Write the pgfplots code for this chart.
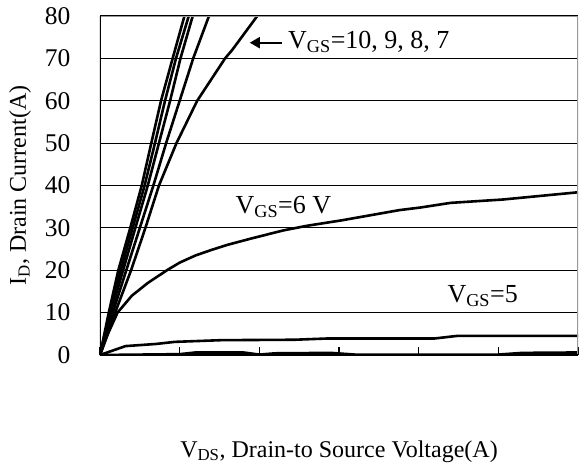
\documentclass[border=0pt]{standalone}
\usepackage{fontspec}
\setmainfont{Liberation Serif}
\usepackage{pgfplots}
\pgfplotsset{compat=1.18}
\usetikzlibrary{arrows.meta}

\newcommand{\sub}[1]{\textsubscript{#1}}

\begin{document}
\begin{tikzpicture}
\begin{axis}[
  scale only axis,
  width=478pt, height=339pt,
  xmin=0, xmax=3, ymin=0, ymax=80,
  xtick={0,0.5,...,3},
  ytick={0,10,...,80},
  xticklabels={},
  axis line style={draw=none},
  xtick pos=bottom, ytick pos=left,
  tick align=inside,
  major tick length=8pt,
  xtick style={black, line width=1.2pt},
  ytick style={draw=none},
  ymajorgrids,
  grid style={black, line width=1.1pt},
  /pgf/number format/assume math mode=true,
  tick label style={font=\fontsize{25.5}{30}\selectfont},
  yticklabel style={xshift=-26pt},
  label style={font=\fontsize{24}{28}\selectfont},
  xlabel={V\sub{DS}, Drain-to Source Voltage(A)},
  ylabel={I\sub{D}, Drain Current(A)},
  xlabel style={at={(axis description cs:0.5,0)}, anchor=base, yshift=-102pt},
  ylabel style={at={(axis description cs:0,0.5)}, anchor=base, yshift=74pt},
  every axis plot post/.append style={black, solid, line width=2.6pt, line join=round, mark=none},
]
% VGS = 10
\addplot coordinates {(0,0) (0.055,10) (0.115,20) (0.19,30) (0.262,40) (0.322,50) (0.383,60) (0.456,70) (0.53,80)};
% VGS = 9
\addplot coordinates {(0,0) (0.062,10) (0.13,20) (0.205,30) (0.28,40) (0.345,50) (0.408,60) (0.477,70) (0.557,80)};
% VGS = 8
\addplot coordinates {(0,0) (0.068,10) (0.145,20) (0.222,30) (0.30,40) (0.37,50) (0.44,60) (0.505,70) (0.582,80)};
% VGS = 7
\addplot coordinates {(0,0) (0.08,10) (0.165,20) (0.25,30) (0.335,40) (0.415,50) (0.50,60) (0.585,70) (0.684,80)};
% upper bend curve
\addplot coordinates {(0,0) (0.095,10) (0.195,20) (0.285,30) (0.37,40) (0.48,50) (0.61,60) (0.785,70) (0.83,72) (0.987,80)};
% VGS = 6
\addplot coordinates {(0,0) (0.05,5) (0.11,10) (0.2,14) (0.3,17) (0.42,20) (0.5,21.8) (0.6,23.5) (0.7,24.8) (0.8,26) (0.94,27.4) (1.15,29.4) (1.3,30.5) (1.52,31.8) (1.7,33) (1.88,34.2) (2.01,34.8) (2.2,35.9) (2.53,36.7) (3.0,38.4)};
% VGS = 5
\addplot coordinates {(0,0) (0.16,2.1) (0.35,2.6) (0.47,3.1) (0.76,3.5) (1.22,3.6) (1.43,3.9) (2.1,3.9) (2.24,4.5) (3,4.5)};
% VGS = 4
\addplot coordinates {(0,0) (0.5,0.2) (0.6,0.6) (0.9,0.6) (1.0,0.1) (1.1,0.4) (1.45,0.5) (1.6,0.1) (2.5,0.1) (2.65,0.5) (3,0.6)};

% frame: grey top/right, black left/bottom
\draw[gray!80, line width=1.5pt] (rel axis cs:0,1) -- (rel axis cs:1,1) -- (rel axis cs:1,0);
\draw[black, line width=2pt] (rel axis cs:0,0) -- (rel axis cs:0,1);
\draw[black, line width=3pt] (rel axis cs:0,0) -- (rel axis cs:1,0);
% inward tick marks and labels on the V_DS axis
\pgfplotsinvokeforeach{0.5,1,1.5,2,2.5}{
  \draw[black, line width=1.2pt] (axis cs:#1,0) -- (axis cs:#1,1.7);
}
\pgfplotsinvokeforeach{0,0.5,1,1.5,2,2.5,3}{
  \node[inner sep=0pt, font=\fontsize{25.5}{30}\selectfont] at (axis cs:#1,0) [yshift=-46pt] {#1};
}

% curve annotations
\draw[-{Triangle[length=10pt,width=11pt]}, line width=2pt] (axis cs:1.14,73.7) -- (axis cs:0.94,73.7);
\node[anchor=base west, inner sep=0pt, font=\fontsize{26}{30}\selectfont] at (axis cs:1.18,72.3) {V\sub{GS}=10, 9, 8, 7};
\node[anchor=base west, inner sep=0pt, font=\fontsize{26}{30}\selectfont] at (axis cs:0.85,33.3) {V\sub{GS}=6 V};
\node[anchor=base west, inner sep=0pt, font=\fontsize{26}{30}\selectfont] at (axis cs:2.18,12.3) {V\sub{GS}=5};
\end{axis}
\pgfresetboundingbox
\path (-100pt,-111pt) rectangle ++(586pt,466pt);
\end{tikzpicture}
\end{document}
